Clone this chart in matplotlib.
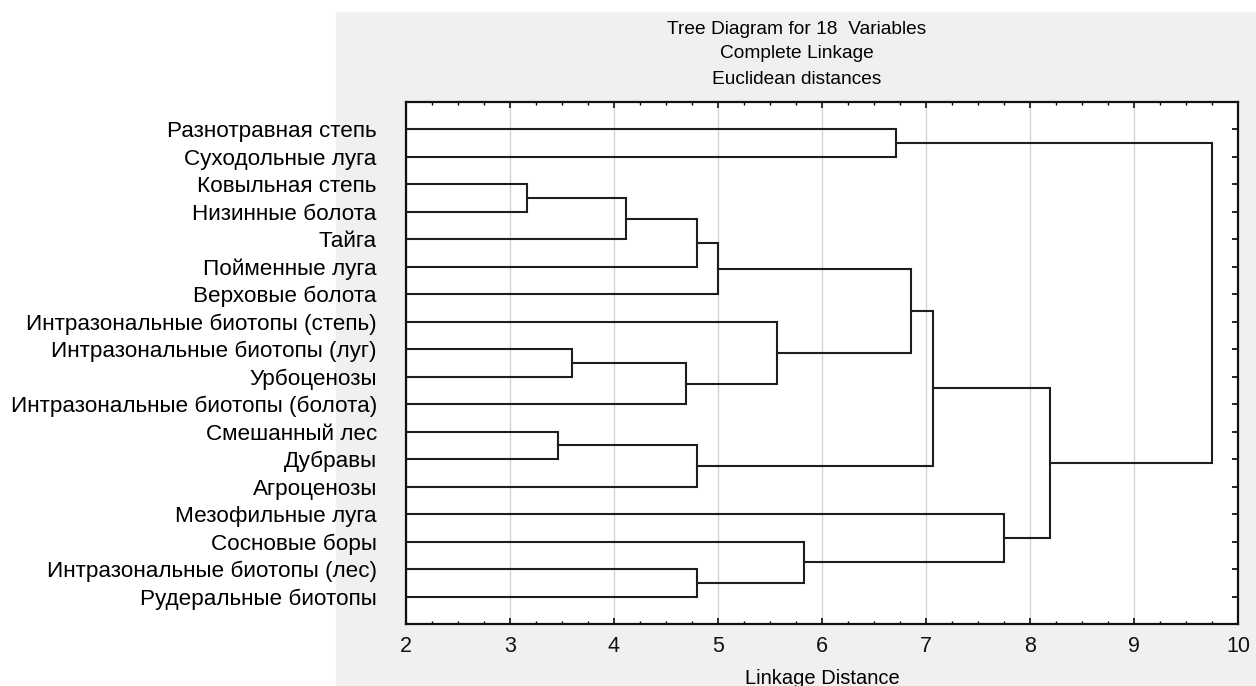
import numpy as np
import matplotlib
matplotlib.use("Agg")
import matplotlib.pyplot as plt
from matplotlib.patches import Rectangle
from matplotlib.ticker import MultipleLocator

plt.rcParams['font.family'] = ['Liberation Sans', 'DejaVu Sans']

# листья в порядке сверху вниз
labels = [
    "Разнотравная степь", "Суходольные луга", "Ковыльная степь",
    "Низинные болота", "Тайга", "Пойменные луга", "Верховые болота",
    "Интразональные биотопы (степь)", "Интразональные биотопы (луг)",
    "Урбоценозы", "Интразональные биотопы (болота)", "Смешанный лес",
    "Дубравы", "Агроценозы", "Мезофильные луга", "Сосновые боры",
    "Интразональные биотопы (лес)", "Рудеральные биотопы",
]

# объединения: id < 18 — лист, id >= 18 — результат объединения (18 + номер)
merge_a = [2, 18, 19, 20, 8, 22, 7, 11, 25, 16, 15, 0, 21, 30, 14, 31, 29]
merge_b = [3, 4, 5, 6, 9, 10, 23, 12, 13, 17, 27, 1, 24, 26, 28, 32, 33]
merge_h = [3.16, 4.12, 4.80, 5.00, 3.60, 4.69, 5.57, 3.46, 4.80, 4.80, 5.83,
           6.71, 6.86, 7.07, 7.75, 8.19, 9.75]

x_ticks = [2, 3, 4, 5, 6, 7, 8, 9, 10]

n = len(labels)
W, H = 1256, 686
fig = plt.figure(figsize=(W / 100, H / 100), dpi=100)
fig.patches.append(Rectangle((336 / W, 0), 1 - 336 / W, (H - 12) / H,
                             transform=fig.transFigure, color='#f0f0f0', zorder=-5))

ax = fig.add_axes([406 / W, (H - 624) / H, (1238 - 406) / W, (624 - 102) / H])
ax.set_facecolor('white')

# позиции узлов
ypos = {i: i + 1.0 for i in range(n)}
hpos = {i: 0.0 for i in range(n)}
for k, (a, b, h) in enumerate(zip(merge_a, merge_b, merge_h)):
    ya, yb = ypos[a], ypos[b]
    ax.plot([hpos[a], h, h, hpos[b]], [ya, ya, yb, yb], color='#1e1e1e', lw=1.5,
            solid_joinstyle='miter', zorder=3)
    ypos[n + k] = (ya + yb) / 2
    hpos[n + k] = h

ax.set_xlim(2, 10)
ax.set_ylim(n + 1, 0)
ax.set_xticks(x_ticks)
ax.xaxis.set_minor_locator(MultipleLocator(0.25))
ax.set_yticks(np.arange(1, n + 1))
ax.set_yticklabels(labels, fontsize=16.2)
ax.grid(axis='x', color='#d4d4d4', lw=1.0, zorder=0)

ax.tick_params(axis='x', which='major', direction='in', length=4, width=1.2,
               top=True, labelsize=15.5, pad=9, colors='#111111')
ax.tick_params(axis='x', which='minor', direction='in', length=2.5, width=1.0, top=True)
ax.tick_params(axis='y', which='major', direction='in', left=False, right=True,
               length=4, width=1.2, pad=21)

for s in ax.spines.values():
    s.set_linewidth(1.6)
    s.set_color('#111111')

ax.set_xlabel("Linkage Distance", fontsize=14.5, labelpad=8)

fig.text(797 / W, 1 - 30 / H, "Tree Diagram for 18  Variables", ha='center', va='center', fontsize=13.8)
fig.text(797 / W, 1 - 54 / H, "Complete Linkage", ha='center', va='center', fontsize=13.8)
fig.text(797 / W, 1 - 79 / H, "Euclidean distances", ha='center', va='center', fontsize=13.8)

fig.savefig("out.png", dpi=100)
